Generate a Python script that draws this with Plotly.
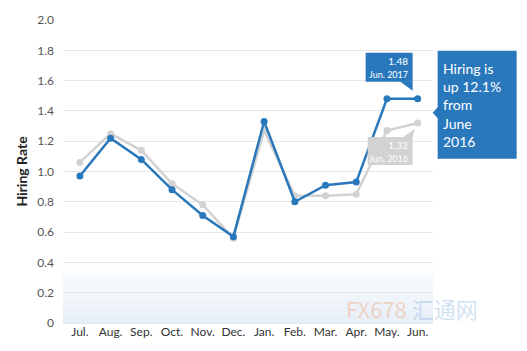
import plotly.graph_objects as go

months = ["Jul.", "Aug.", "Sep.", "Oct.", "Nov.", "Dec.", "Jan.", "Feb.", "Mar.", "Apr.", "May.", "Jun."]
rate_2017 = [0.97, 1.22, 1.08, 0.88, 0.71, 0.57, 1.33, 0.80, 0.91, 0.93, 1.48, 1.48]
rate_2016 = [1.06, 1.25, 1.14, 0.92, 0.78, 0.56, 1.27, 0.84, 0.84, 0.85, 1.27, 1.32]
y_ticks = [0, 0.2, 0.4, 0.6, 0.8, 1.0, 1.2, 1.4, 1.6, 1.8, 2.0]
y_ticktext = ["0", "0.2", "0.4", "0.6", "0.8", "1.0", "1.2", "1.4", "1.6", "1.8", "2.0"]

BLUE = "#2a78bc"
GRAY = "#d2d2d2"
FONT = "Lato"

xs = list(range(len(months)))
xr = [-0.55, len(months) - 0.5]
last = len(months) - 1
last_frac = (last - xr[0]) / (xr[1] - xr[0])

fig = go.Figure()
fig.add_trace(go.Scatter(x=xs, y=rate_2016, mode="lines+markers",
                         line=dict(color=GRAY, width=2.5),
                         marker=dict(color=GRAY, size=7), hoverinfo="skip"))
fig.add_trace(go.Scatter(x=xs, y=rate_2017, mode="lines+markers",
                         line=dict(color=BLUE, width=2.5),
                         marker=dict(color=BLUE, size=7), hoverinfo="skip"))

shapes = []
# faint blue haze near the bottom
for k in range(8):
    shapes.append(dict(type="rect", xref="x domain", yref="y", x0=0, x1=1,
                       y0=0, y1=0.05 * (k + 1), line=dict(width=0),
                       fillcolor="rgba(195,215,238,0.05)", layer="below"))

def pix_shape(path, yval, color):
    return dict(type="path", xref="x domain", yref="y", xsizemode="pixel", ysizemode="pixel",
                xanchor=last_frac, yanchor=yval, path=path,
                fillcolor=color, line=dict(width=0), layer="above")

# blue label box + tail
shapes.append(pix_shape("M -52 17 L -5 17 L -5 46 L -52 46 Z", rate_2017[-1], BLUE))
shapes.append(pix_shape("M -18 17.5 L -5 17.5 L -5 8 Z", rate_2017[-1], BLUE))
# big callout box + pointer
shapes.append(pix_shape("M 20 48 L 99 48 L 99 -60 L 20 -60 Z", rate_2017[-1], BLUE))
shapes.append(pix_shape("M 20.5 -8 L 15 -14 L 20.5 -20 Z", rate_2017[-1], BLUE))
# gray label box + tail
shapes.append(pix_shape("M -50 -14 L -5 -14 L -5 -42 L -50 -42 Z", rate_2016[-1], GRAY))
shapes.append(pix_shape("M -15 -14.5 L -5 -14.5 L -3 -6 Z", rate_2016[-1], GRAY))

annotations = [
    dict(x=last, y=rate_2017[-1], xref="x", yref="y", showarrow=False,
         text="1.48<br><span style='font-size:9px'>Jun. 2017</span>",
         align="right", xanchor="right", yanchor="middle", xshift=-8, yshift=31,
         font=dict(family=FONT, size=10, color="white")),
    dict(x=last, y=rate_2016[-1], xref="x", yref="y", showarrow=False,
         text="1.32<br><span style='font-size:9px'>Jun. 2016</span>",
         align="right", xanchor="right", yanchor="middle", xshift=-8, yshift=-28,
         font=dict(family=FONT, size=10, color="white")),
    dict(x=last, y=rate_2017[-1], xref="x", yref="y", showarrow=False,
         text="Hiring is<br>up 12.1%<br>from<br>June<br>2016",
         align="left", xanchor="left", yanchor="middle", xshift=23, yshift=-6,
         font=dict(family=FONT, size=14, color="white")),
    dict(x=0.76, y=0.05, xref="paper", yref="paper", showarrow=False,
         text="<span style='color:rgba(240,150,90,0.35)'>FX678</span> <span style='color:rgba(120,170,220,0.35)'>汇通网</span>",
         xanchor="left", yanchor="middle",
         font=dict(family="Noto Sans CJK SC", size=22)),
]

fig.update_layout(
    width=527, height=351,
    margin=dict(l=63, r=94, t=14, b=28),
    paper_bgcolor="white", plot_bgcolor="white",
    showlegend=False,
    shapes=shapes, annotations=annotations,
    font=dict(family=FONT, color="#444"),
    xaxis=dict(range=xr, tickvals=xs, ticktext=months, showgrid=False, zeroline=False,
               showline=False, ticks="", tickfont=dict(size=12, color="#333"), fixedrange=True),
    yaxis=dict(range=[0, 2.0], tickvals=y_ticks, ticktext=y_ticktext, showgrid=True,
               gridcolor="#e6e6e6", gridwidth=1, zeroline=True, zerolinecolor="#e6e6e6",
               zerolinewidth=1, showline=False, ticks="", ticklabelstandoff=8,
               tickfont=dict(size=12, color="#555"),
               title=dict(text="<b>Hiring Rate</b>", font=dict(size=14, color="#222"), standoff=6)),
)

fig.write_html("out.html")
